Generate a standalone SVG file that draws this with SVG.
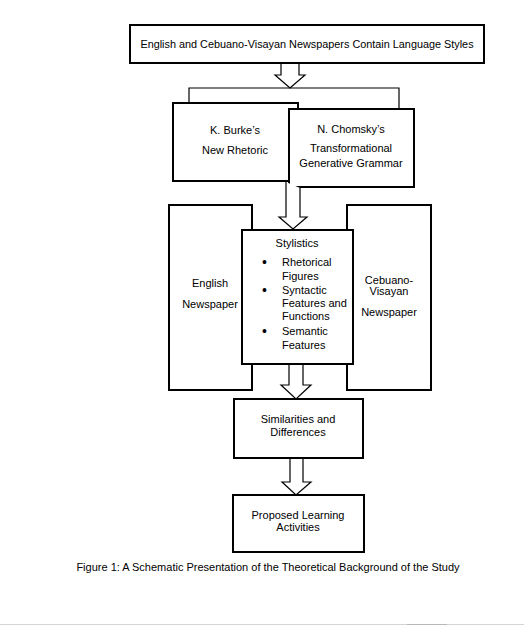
<svg xmlns="http://www.w3.org/2000/svg" width="524" height="626" viewBox="0 0 524 626">
<style>
.box{fill:#fff;stroke:#000;stroke-width:2}
.con{fill:#fff;stroke:#000;stroke-width:1.2}
.line{fill:none;stroke:#000;stroke-width:1.2}
text{font-family:"Liberation Sans",Arial,sans-serif;font-size:11px;fill:#000}
.c{text-anchor:middle}
.b{font-size:14px}
</style>
<rect width="524" height="626" fill="#fff"/>
<g id="top">
<rect class="box" x="130" y="25" width="354" height="38"/>
<text class="c" x="307" y="48" style="font-size:10.85px">English and Cebuano-Visayan Newspapers Contain Language Styles</text>
</g>
<g id="burke">
<rect class="box" x="173" y="103" width="125" height="78"/>
<text class="c" x="235" y="134">K. Burke’s</text>
<text class="c" x="235" y="154">New Rhetoric</text>
</g>
<g id="chomsky">
<rect class="box" x="289" y="109" width="125" height="78"/>
<text class="c" x="351" y="133">N. Chomsky’s</text>
<text class="c" x="351" y="152">Transformational</text>
<text class="c" x="351" y="167">Generative Grammar</text>
</g>
<g id="english">
<rect class="box" x="169" y="205" width="83" height="185"/>
<text class="c" x="210" y="287">English</text>
<text class="c" x="210" y="308">Newspaper</text>
</g>
<g id="cebuano">
<rect class="box" x="347" y="205" width="84" height="185"/>
<text class="c" x="389" y="284">Cebuano-</text>
<text class="c" x="389" y="295">Visayan</text>
<text class="c" x="389" y="316">Newspaper</text>
</g>
<g id="stylistics">
<rect class="box" x="242" y="230" width="111" height="134"/>
<text class="c" x="297" y="247">Stylistics</text>
<text class="b" x="262" y="267">•</text>
<text x="282" y="266">Rhetorical</text>
<text x="282" y="280">Figures</text>
<text class="b" x="262" y="295">•</text>
<text x="282" y="294">Syntactic</text>
<text x="282" y="307">Features and</text>
<text x="282" y="320">Functions</text>
<text class="b" x="262" y="336">•</text>
<text x="282" y="335">Semantic</text>
<text x="282" y="349">Features</text>
</g>
<g id="similarities">
<rect class="box" x="234" y="399" width="129" height="59"/>
<text class="c" x="298" y="423">Similarities and</text>
<text class="c" x="298" y="436">Differences</text>
</g>
<g id="proposed">
<rect class="box" x="233" y="495" width="131" height="57"/>
<text class="c" x="298" y="519">Proposed Learning</text>
<text class="c" x="298" y="531">Activities</text>
</g>
<g id="connectors">
<path class="line" d="M189,103 V88 H399 V109"/>
<path class="con" d="M281,64 V75 H275 L290,88 L305,75 H299 V64"/>
<path class="con" d="M286,182 V217 H279 L293,229 L307,217 H300 V188"/>
<path class="con" d="M289,365 V385 H281 L296,399 L311,385 H303 V365"/>
<path class="con" d="M290,459 V482 H282 L296,495 L311,482 H303 V459"/>
</g>
<text class="c" x="268" y="571">Figure 1: A Schematic Presentation of the Theoretical Background of the Study</text>
<line x1="0" y1="624.5" x2="524" y2="624.5" stroke="#d4d4d4" stroke-width="1"/>
<line x1="407" y1="624.5" x2="447" y2="624.5" stroke="#b8b8b8" stroke-width="1"/>
</svg>
